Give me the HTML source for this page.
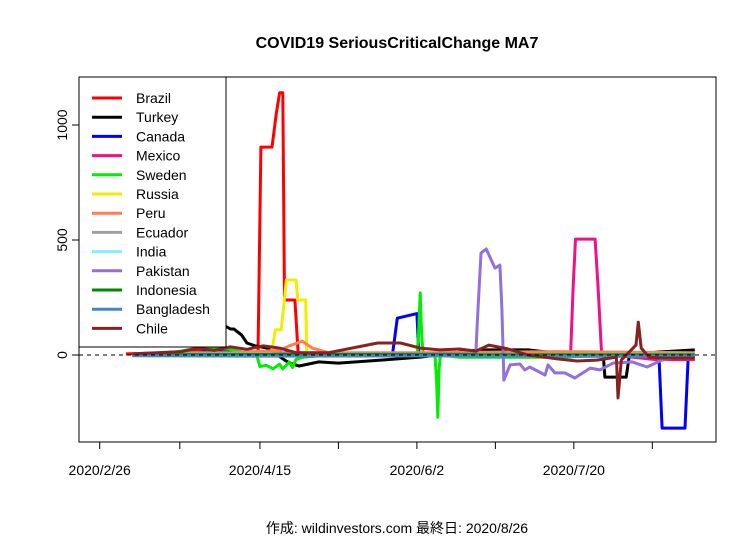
<!DOCTYPE html>
<html><head><meta charset="utf-8"><style>
body{margin:0;background:#fff;}
svg{display:block;font-family:"Liberation Sans","Noto Sans CJK JP",sans-serif;}
</style></head><body>
<svg id="chart" width="756" height="540" xmlns="http://www.w3.org/2000/svg">
<text x="397" y="48" text-anchor="middle" font-size="16" font-weight="bold">COVID19 SeriousCriticalChange MA7</text>
<g id="plot"></g>
<text x="397" y="533" text-anchor="middle" font-size="14">作成: wildinvestors.com 最終日: 2020/8/26</text>
</svg>
<script>
const xTickDays=[0,49,97,145];
const xTickLabels=["2020/2/26","2020/4/15","2020/6/2","2020/7/20"];
const xMinorDays=[24.5,73,121,169];
const yTicks=[0,500,1000];
const seriesNames=["Brazil","Turkey","Canada","Mexico","Sweden","Russia","Peru","Ecuador","India","Pakistan","Indonesia","Bangladesh","Chile"];
const seriesColors=["#ff0000","#000000","#0000ff","#ee1188","#00ee00","#eeee00","#ff7f50","#a0a0a0","#88eeff","#9370db","#008800","#4488cc","#882222"];
const ecuadorDays=[10,40,60,100,140,182];const ecuadorVals=[5,8,4,3,2,2];
const indiaDays=[10,60,120,182];const indiaVals=[2,3,2,3];
const indonesiaDays=[10,60,120,182];const indonesiaVals=[1,2,1,1];
const bangladeshDays=[10,50,100,150,182];const bangladeshVals=[-3,-5,-4,-6,-5];
const brazilDays=[8,20,30,40,47,48.4,49.3,52.7,54,55,56,56.5,59.7,60.7,70,100,140,182];
const brazilVals=[5,10,20,15,10,0,904,904,1050,1140,1140,239,239,5,5,5,5,0];
const turkeyDays=[34.7,36.2,40,41,43.4,45,47.5,51,58,61,67,73,86,98,116,131,139,154,154.5,161,162,171,182];
const turkeyVals=[100,143,113,113,87,52,40,31,-35,-48,-30,-35,-22,-9,22,22,9,-4,-96,-96,0,13,22];
const canadaDays=[10,30,35,40,50,89.5,91,97,97.6,120,150,171,172,179,180,182];
const canadaVals=[0,5,30,10,0,0,160,180,0,3,5,0,-318,-318,0,0];
const mexicoDays=[10,40,60,100,144,144.8,145.5,151.5,152.4,153.5,170,182];
const mexicoVals=[0,5,10,5,5,300,504,504,300,5,-20,-20];
const swedenDays=[10,22,30,40,48,49,51,53,55,56,58,59,60,62,70,97,97.5,98,98.3,98.6,99,102.5,103,103.4,103.8,104.2,110,115,140,160,182];
const swedenVals=[0,10,30,25,0,-50,-45,-60,-40,-60,-30,-55,-20,-10,0,0,80,270,150,60,0,0,-100,-270,-60,0,-10,-10,-10,0,0];
const russiaDays=[50,52.7,53.7,55.5,57.1,60,60.6,63,63.3,80,182];
const russiaVals=[0,20,109,109,326,326,239,239,0,5,5];
const peruDays=[20,40,55,58,62,65,70,100,140,182];
const peruVals=[10,10,20,40,60,30,10,10,15,10];
const pakistanDays=[10,100,115,115.5,116.6,118.2,120.9,122.4,123,123.6,125.5,128.5,130,131.5,136.2,137.1,139.2,142.2,145.3,150,153,157,162.8,167.4,171.9,176.5,182];
const pakistanVals=[0,5,5,150,443,461,378,391,200,-109,-43,-39,-65,-52,-87,-43,-78,-78,-100,-57,-65,-35,-30,-52,-22,-9,-4];
const chileDays=[10,25,30,35,40,45,50,55,60,70,85,92,98,104,110,115,119,125,131,140,146,152,158,158.5,159.5,164,164.7,165.6,168,172,182];
const chileVals=[5,15,30,20,35,25,40,30,10,10,52,52,30,22,26,17,43,26,0,-17,-26,-22,-9,-187,-22,43,143,30,-9,-13,-13];
const allDays=[brazilDays,turkeyDays,canadaDays,mexicoDays,swedenDays,russiaDays,peruDays,ecuadorDays,indiaDays,pakistanDays,indonesiaDays,bangladeshDays,chileDays];
const allVals=[brazilVals,turkeyVals,canadaVals,mexicoVals,swedenVals,russiaVals,peruVals,ecuadorVals,indiaVals,pakistanVals,indonesiaVals,bangladeshVals,chileVals];

const NS="http://www.w3.org/2000/svg";
const g=document.getElementById('plot');
const L=79,R=716,T=77,B=442;
function xs(d){return 99.7+d*3.27;}
function ys(v){return 355-v*0.23;}
function mk(tag,attrs,parent){const e=document.createElementNS(NS,tag);for(const k in attrs)e.setAttribute(k,attrs[k]);(parent||g).appendChild(e);return e;}

let fr=mk('rect',{x:L,y:T,width:R-L,height:B-T,fill:'none',stroke:'#000','stroke-width':1});



for(let i=0;i<seriesNames.length;i++){
  const pts=allDays[i].map((d,j)=>xs(d).toFixed(1)+','+ys(allVals[i][j]).toFixed(1)).join(' ');
  const pl=mk('polyline',{points:pts,fill:'none',stroke:seriesColors[i],'stroke-width':3,'stroke-linejoin':'round'});
  
  
}
let zl=mk('line',{x1:L,x2:R,y1:ys(0),y2:ys(0),stroke:'#000','stroke-width':1,'stroke-dasharray':'4,4'});



for(const t of yTicks){
  const tl=mk('line',{x1:L-7,x2:L,y1:ys(t),y2:ys(t),stroke:'#000'});
  
  
  const tx=mk('text',{x:0,y:0,'font-size':14,'text-anchor':'middle',transform:`translate(67,${ys(t)}) rotate(-90)`});
  tx.textContent=String(t);
  
  
}
const ax=mk('line',{x1:xs(0),x2:xs(169),y1:B,y2:B,stroke:'#000'});


xTickDays.forEach((d,i)=>{
  const tl=mk('line',{x1:xs(d),x2:xs(d),y1:B,y2:B+7,stroke:'#000'});
  
  
  const tx=mk('text',{x:xs(d),y:475,'font-size':14,'text-anchor':'middle'});
  tx.textContent=xTickLabels[i];
  
  
});
xMinorDays.forEach(d=>{
  const tl=mk('line',{x1:xs(d),x2:xs(d),y1:B,y2:B+7,stroke:'#000'});
  
  
});

const lg=mk('g',{});


mk('rect',{x:L,y:T,width:147,height:270,fill:'#fff',stroke:'#000'},lg);
seriesNames.forEach((n,i)=>{
  const y=98+i*19.2;
  const e=mk('g',{},lg);
  
  
  mk('line',{x1:92,x2:122,y1:y,y2:y,stroke:seriesColors[i],'stroke-width':3},e);
  const t=mk('text',{x:136,y:y+5,'font-size':14},e);
  t.textContent=n;
});
</script>
</body></html>
